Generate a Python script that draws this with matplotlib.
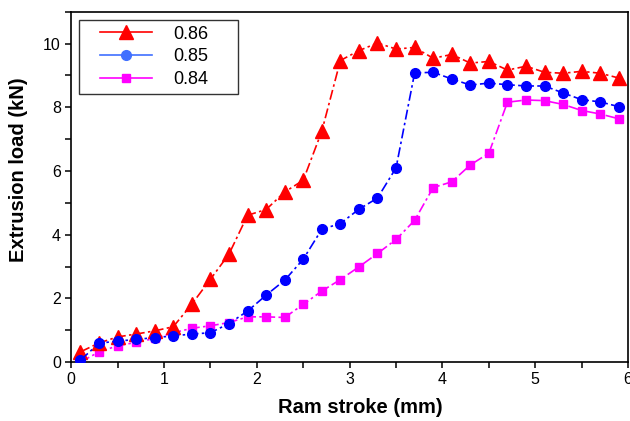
import matplotlib
matplotlib.use("Agg")
import matplotlib.pyplot as plt
from matplotlib.ticker import MultipleLocator
from matplotlib.legend_handler import HandlerLine2D

plt.rcParams['font.family'] = ['Liberation Sans', 'DejaVu Sans']

# ram stroke (mm)
stroke = [0.1, 0.3, 0.5, 0.7, 0.9, 1.1, 1.3, 1.5, 1.7, 1.9,
          2.1, 2.3, 2.5, 2.7, 2.9, 3.1, 3.3, 3.5, 3.7, 3.9,
          4.1, 4.3, 4.5, 4.7, 4.9, 5.1, 5.3, 5.5, 5.7, 5.9]

# extrusion load (kN)
load_086 = [0.32, 0.60, 0.79, 0.88, 0.98, 1.11, 1.82, 2.60, 3.39, 4.61,
            4.79, 5.34, 5.71, 7.25, 9.47, 9.78, 10.02, 9.83, 9.88, 9.54,
            9.66, 9.39, 9.44, 9.17, 9.29, 9.10, 9.07, 9.13, 9.07, 8.92]
load_085 = [0.06, 0.59, 0.66, 0.71, 0.77, 0.82, 0.88, 0.92, 1.21, 1.60,
            2.10, 2.57, 3.23, 4.17, 4.35, 4.80, 5.15, 6.10, 9.08, 9.10,
            8.89, 8.70, 8.76, 8.71, 8.67, 8.67, 8.45, 8.24, 8.17, 8.02]
load_084 = [0.00, 0.32, 0.51, 0.62, 0.74, 0.92, 1.06, 1.14, 1.24, 1.42,
            1.42, 1.40, 1.81, 2.23, 2.59, 2.99, 3.41, 3.85, 4.45, 5.48,
            5.66, 6.19, 6.56, 8.16, 8.23, 8.21, 8.09, 7.90, 7.79, 7.64]

labels = ['0.86', '0.85', '0.84']

fig = plt.figure(figsize=(6.3, 4.21), dpi=100)
ax = fig.add_axes([0.113, 0.140, 0.884, 0.832])

dash = (6, 2, 1.5, 2)
l1, = ax.plot(stroke, load_086, color='#ff0000', marker='^', markersize=9.5,
              lw=1.2, dashes=dash, label=labels[0], zorder=3)
l3, = ax.plot(stroke, load_084, color='#ff00ff', marker='s', markersize=6,
              lw=1.2, dashes=dash, label=labels[2], zorder=2)
l2, = ax.plot(stroke, load_085, color='#0000ff', marker='o', markersize=7,
              lw=1.2, dashes=dash, label=labels[1], zorder=4)

ax.set_xlim(0, 6)
ax.set_ylim(0, 11)
ax.xaxis.set_major_locator(MultipleLocator(1))
ax.xaxis.set_minor_locator(MultipleLocator(0.5))
ax.yaxis.set_major_locator(MultipleLocator(2))
ax.yaxis.set_minor_locator(MultipleLocator(1))
ax.tick_params(which='both', direction='out', length=4, width=1.1,
               labelsize=11.5, top=False, right=False)
for s in ax.spines.values():
    s.set_linewidth(1.2)

ax.set_xlabel('Ram stroke (mm)', fontsize=14.5, fontweight='bold')
ax.set_ylabel('Extrusion load (kN)', fontsize=14.5, fontweight='bold')
ax.xaxis.set_label_coords(0.519, -0.103)
ax.yaxis.set_label_coords(-0.078, 0.548)

hmap = {l1: HandlerLine2D(xpad=0.86), l2: HandlerLine2D(xpad=0.86),
        l3: HandlerLine2D(xpad=0.86)}
leg = ax.legend(handles=[l1, l2, l3], loc='upper left', fontsize=13,
                frameon=True, fancybox=False, edgecolor='black',
                handlelength=3.74, handletextpad=1.16, borderpad=0.3,
                labelspacing=0.32, borderaxespad=0, mode='expand',
                bbox_to_anchor=(0.0144, 0.776, 0.2855, 0.2),
                handler_map=hmap)
leg.get_frame().set_linewidth(1.0)
for h, c in zip(leg.legend_handles, ['#ff0000', '#4070ff', '#ff00ff']):
    h.set_dashes((None, None))
    h.set_linestyle('-')
    h.set_color(c)

fig.savefig('out.png', dpi=100)
